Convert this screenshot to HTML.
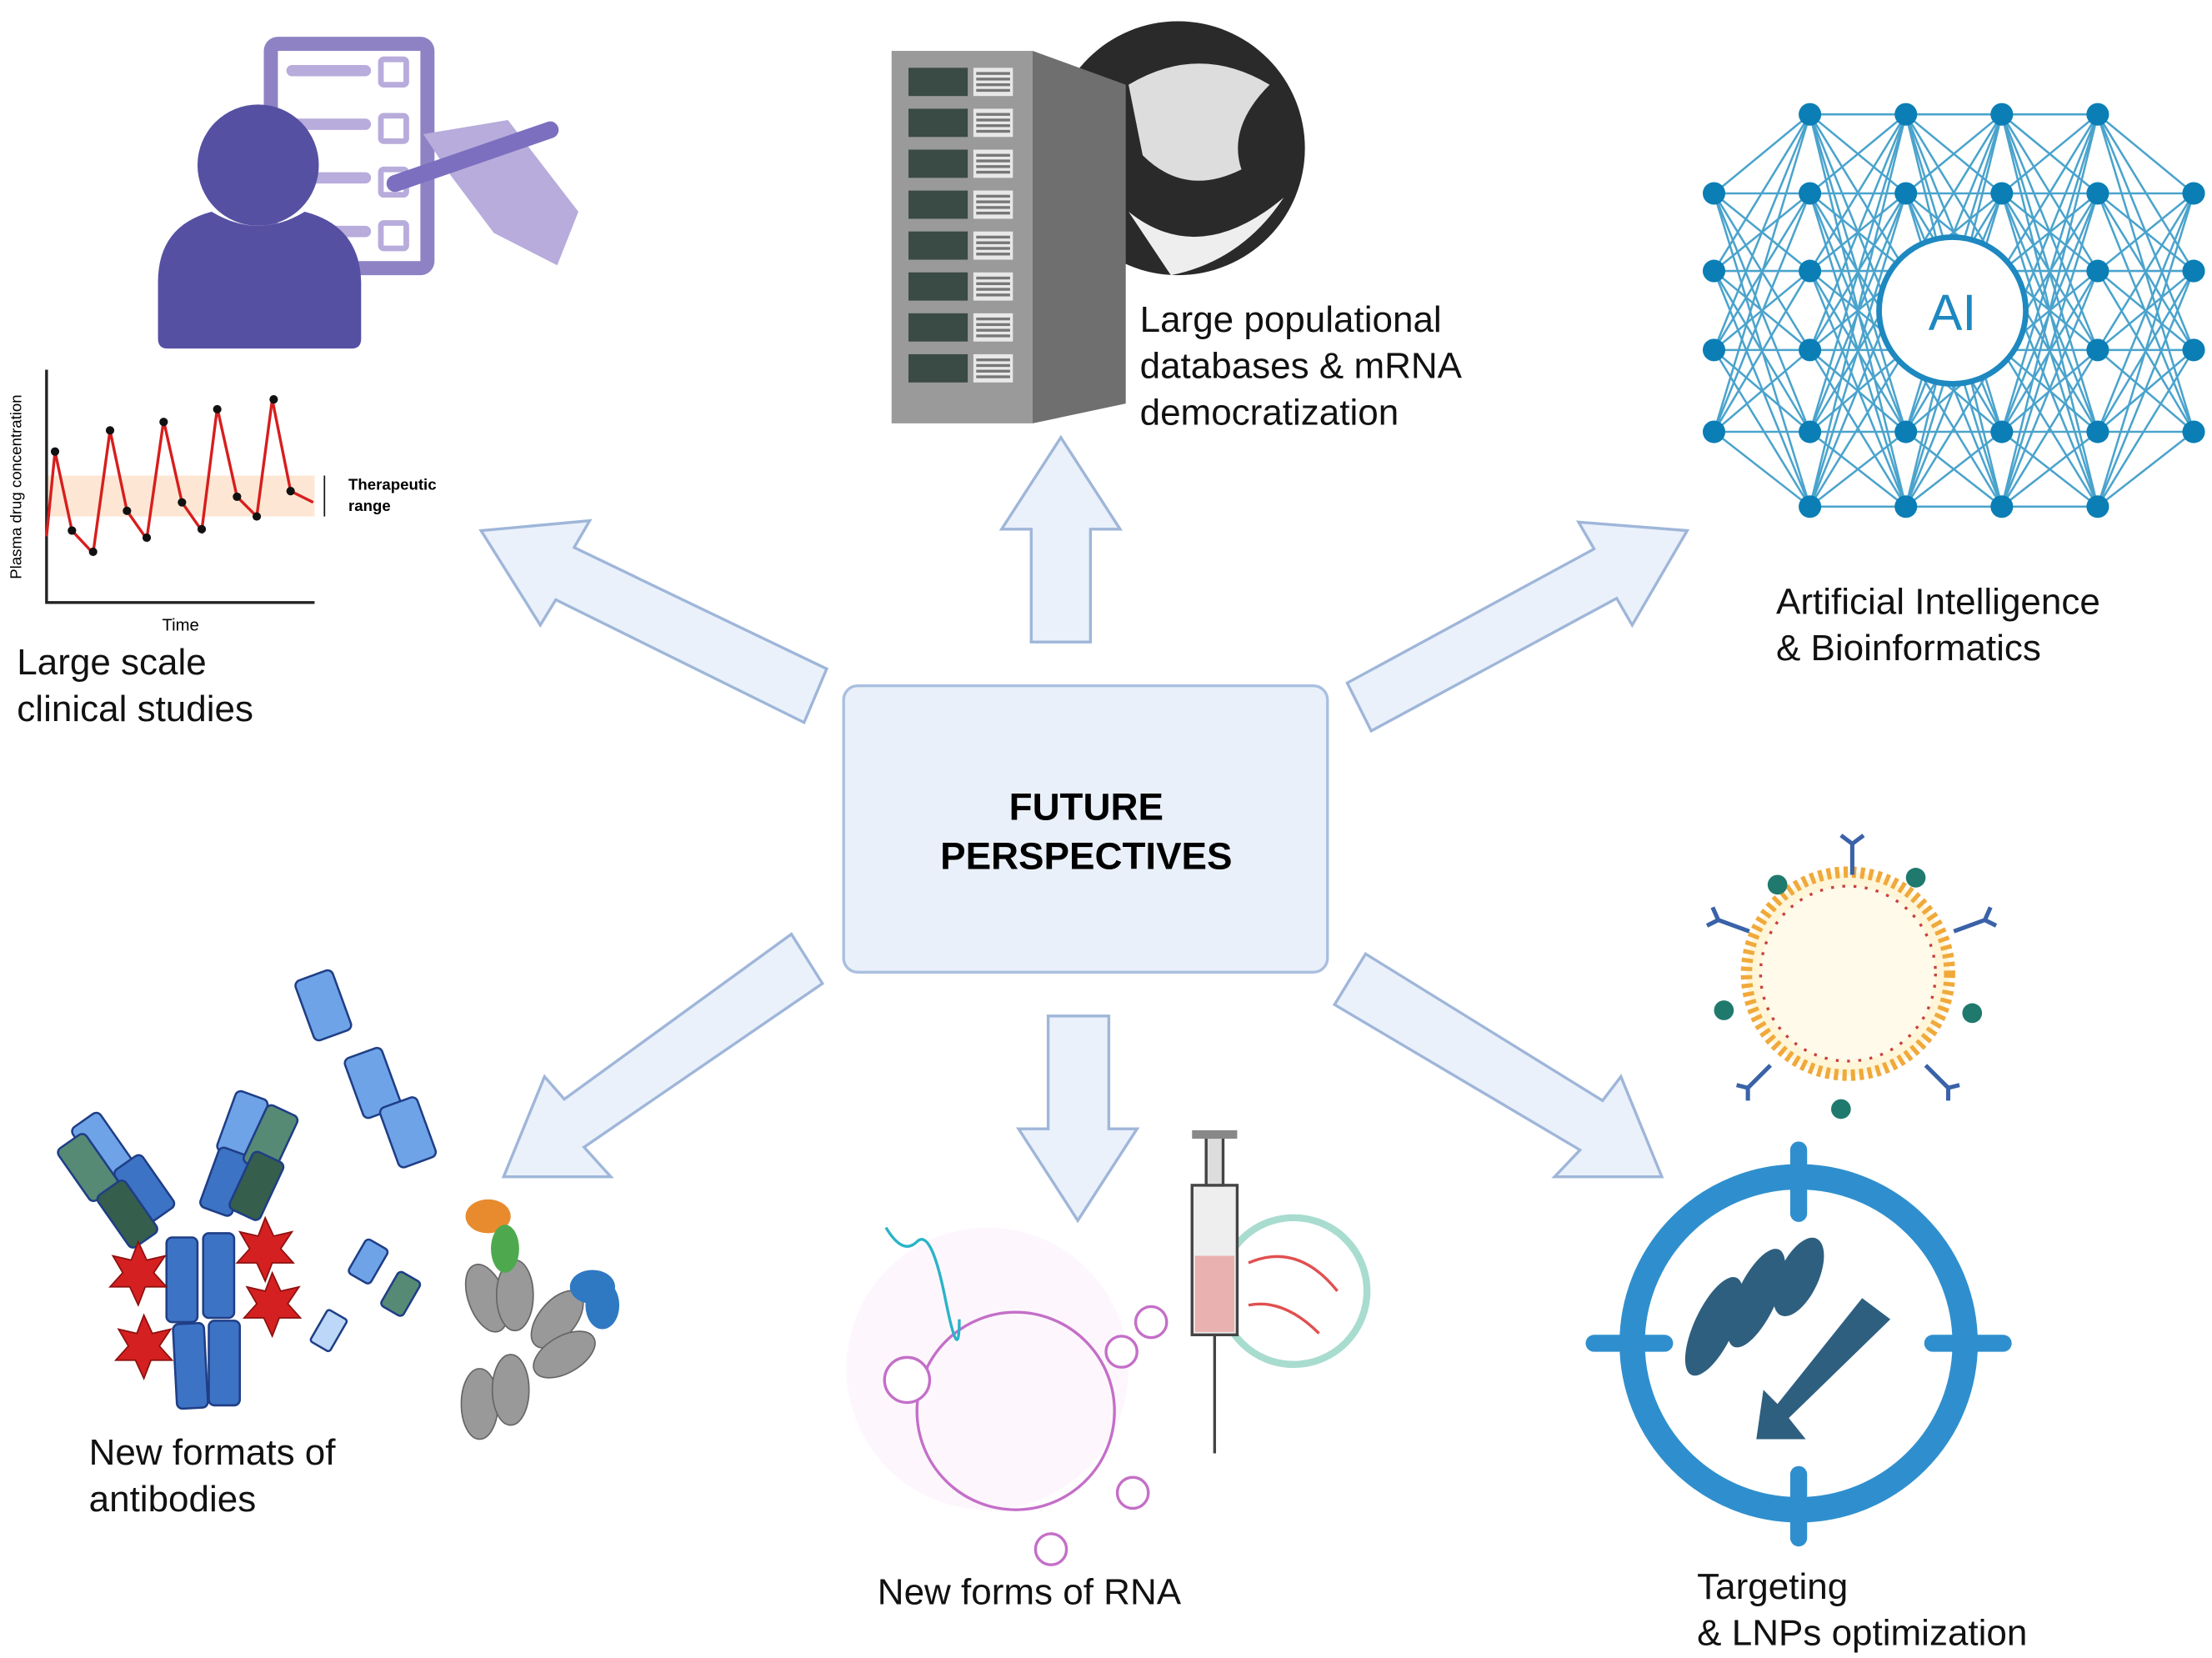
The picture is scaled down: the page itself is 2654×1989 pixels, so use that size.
<!DOCTYPE html>
<html><head><meta charset="utf-8"><style>
html,body{margin:0;padding:0;background:#fff}
svg{display:block}
text{font-family:"Liberation Sans",sans-serif}
</style></head><body>
<svg id="s" width="2654" height="1989" viewBox="0 0 1568 1175" xmlns="http://www.w3.org/2000/svg">
<rect width="1568" height="1175" fill="#fff"/>
<rect x="187" y="26" width="121" height="169" rx="10" fill="#8e82c4"/>
<rect x="197" y="36" width="101" height="149" fill="#fff"/>
<g fill="#b7acdb">
<rect x="203" y="46" width="60" height="8" rx="4"/><rect x="270" y="42" width="18" height="18" rx="2" fill="none" stroke="#b7acdb" stroke-width="4"/>
<rect x="203" y="84" width="60" height="8" rx="4"/><rect x="270" y="82" width="18" height="18" rx="2" fill="none" stroke="#b7acdb" stroke-width="4"/>
<rect x="203" y="122" width="60" height="8" rx="4"/><rect x="270" y="120" width="18" height="18" rx="2" fill="none" stroke="#b7acdb" stroke-width="4"/>
<rect x="203" y="160" width="60" height="8" rx="4"/><rect x="270" y="158" width="18" height="18" rx="2" fill="none" stroke="#b7acdb" stroke-width="4"/>
<path d="M300 95 L360 85 L410 150 L395 188 L350 165 L320 125 Z"/>
</g>
<path d="M280 130 L390 92" stroke="#7c6fbf" stroke-width="12" stroke-linecap="round"/>
<circle cx="183" cy="117" r="43" fill="#5650a3"/>
<path d="M112 200 Q112 160 150 150 Q183 170 216 150 Q255 160 256 200 L256 240 Q256 247 249 247 L119 247 Q112 247 112 240 Z" fill="#5650a3"/>
<rect x="33" y="337" width="190" height="29" fill="#fde7d4"/>
<path d="M33 262 V427 H223" stroke="#222" stroke-width="2" fill="none"/>
<path d="M33 380 L39 320 L51 376 L66 392 L78 305 L90 362 L104 382 L116 298 L129 356 L143 376 L154 289 L168 352 L182 366 L193 283 L206 348 L222 356" stroke="#d71e1e" stroke-width="2" fill="none"/>
<g fill="#111"><circle cx="39" cy="320" r="3"/><circle cx="51" cy="376" r="3"/><circle cx="66" cy="391" r="3"/><circle cx="78" cy="305" r="3"/><circle cx="90" cy="362" r="3"/><circle cx="104" cy="381" r="3"/><circle cx="116" cy="299" r="3"/><circle cx="129" cy="356" r="3"/><circle cx="143" cy="375" r="3"/><circle cx="154" cy="290" r="3"/><circle cx="168" cy="352" r="3"/><circle cx="182" cy="366" r="3"/><circle cx="194" cy="283" r="3"/><circle cx="206" cy="348" r="3"/></g>
<path d="M230 337 V366" stroke="#111" stroke-width="1"/>
<text x="247" y="347" font-size="11" font-weight="bold">Therapeutic</text>
<text x="247" y="362" font-size="11" font-weight="bold">range</text>
<text x="128" y="447" font-size="12" text-anchor="middle">Time</text>
<text transform="translate(15,345) rotate(-90)" font-size="11" text-anchor="middle">Plasma drug concentration</text>
<circle cx="835" cy="105" r="90" fill="#2a2a2a"/>
<path d="M800 60 Q850 30 900 60 Q870 90 880 120 Q840 140 810 110 Z" fill="#ddd"/>
<path d="M800 150 Q850 190 910 140 Q880 185 830 195 Z" fill="#eee"/>
<rect x="632" y="36" width="100" height="264" fill="#9a9a9a"/>
<polygon points="732,36 798,60 798,286 732,300" fill="#6f6f6f"/>
<g id="srv"></g>
<g id="net"></g>
<circle cx="1384" cy="220" r="52" fill="#fff" stroke="#1e88c0" stroke-width="4"/>
<text x="1384" y="234" font-size="36" fill="#1e88c0" text-anchor="middle">AI</text>
<rect x="598" y="486" width="343" height="203" rx="10" fill="#e9f0f9" stroke="#a9bfe0" stroke-width="2"/>
<text x="770" y="581" font-size="27" font-weight="bold" text-anchor="middle">FUTURE</text>
<text x="770" y="616" font-size="27" font-weight="bold" text-anchor="middle">PERSPECTIVES</text>
<g fill="#eaf1fb" stroke="#9fb6d9" stroke-width="2">
<polygon points="731,455 731,375 710,375 752,310 794,375 773,375 773,455"/>
<polygon points="743,720 786,720 786,800 806,800 764,865 722,800 743,800"/>
<polygon points="341,376 418,369 407,388 586,474 570,512 394,425 383,443"/>
<polygon points="1196,376 1157,443 1146,424 972,518 955,484 1130,389 1119,370"/>
<polygon points="357,834 386,763 400,779 561,662 583,697 414,813 433,834"/>
<polygon points="1178,834 1102,834 1120,815 946,712 968,676 1136,780 1149,763"/>
</g>
<g stroke="#1f3e86" stroke-width="1.5">
<g fill="#3d73c4"><rect x="118" y="877" width="22" height="60" rx="4"/><rect x="124" y="938" width="22" height="60" rx="4" transform="rotate(-3 135 968)"/><rect x="144" y="874" width="22" height="60" rx="4"/><rect x="148" y="936" width="22" height="60" rx="4"/></g>
<g fill="#6ea3e8"><rect x="60" y="790" width="24" height="45" rx="4" transform="rotate(-35 72 812)"/><rect x="160" y="775" width="24" height="45" rx="4" transform="rotate(20 172 797)"/><rect x="215" y="690" width="28" height="45" rx="4" transform="rotate(-20 229 712)"/><rect x="250" y="745" width="28" height="45" rx="4" transform="rotate(-20 264 767)"/><rect x="275" y="780" width="28" height="45" rx="4" transform="rotate(-20 289 802)"/><rect x="252" y="880" width="18" height="28" rx="3" transform="rotate(30 261 894)"/></g>
<g fill="#3d73c4"><rect x="90" y="820" width="24" height="45" rx="4" transform="rotate(-35 102 842)"/><rect x="148" y="815" width="24" height="45" rx="4" transform="rotate(20 160 837)"/></g>
<g fill="#568a74"><rect x="50" y="805" width="24" height="45" rx="4" transform="rotate(-35 62 827)"/><rect x="180" y="785" width="24" height="45" rx="4" transform="rotate(25 192 807)"/><rect x="275" y="903" width="18" height="28" rx="3" transform="rotate(30 284 917)"/></g>
<g fill="#355e4c"><rect x="78" y="838" width="24" height="45" rx="4" transform="rotate(-35 90 860)"/><rect x="170" y="818" width="24" height="45" rx="4" transform="rotate(25 182 840)"/></g>
<rect x="225" y="930" width="16" height="26" rx="2" fill="#bcd7f7" transform="rotate(30 233 943)"/>
</g>
<g fill="#d42020" stroke="#8c0f0f"><polygon points="98,880 104,893 117,890 109,902 118,912 103,912 98,925 92,912 78,912 87,902 80,890 93,893"/><polygon points="102,932 108,945 121,942 113,954 122,964 107,964 102,977 96,964 82,964 91,954 84,942 97,945"/><polygon points="188,863 194,876 207,873 199,885 208,895 193,895 188,908 182,895 168,895 177,885 170,873 183,876"/><polygon points="193,902 199,915 212,912 204,924 213,934 198,934 193,947 187,934 173,934 182,924 175,912 188,915"/></g>
<g fill="#999" stroke="#666"><ellipse cx="345" cy="920" rx="13" ry="25" transform="rotate(-20 345 920)"/><ellipse cx="365" cy="918" rx="13" ry="25"/><ellipse cx="340" cy="995" rx="13" ry="25"/><ellipse cx="362" cy="985" rx="13" ry="25"/><ellipse cx="395" cy="935" rx="13" ry="24" transform="rotate(40 395 935)"/><ellipse cx="400" cy="960" rx="13" ry="24" transform="rotate(60 400 960)"/></g>
<ellipse cx="346" cy="862" rx="16" ry="12" fill="#e88a2e"/><ellipse cx="358" cy="885" rx="10" ry="17" fill="#4ea94e"/>
<ellipse cx="420" cy="912" rx="16" ry="12" fill="#2f78c2"/><ellipse cx="427" cy="925" rx="12" ry="17" fill="#2f78c2"/>
<circle cx="700" cy="970" r="100" fill="#f7e6f7" opacity="0.3"/>
<circle cx="720" cy="1000" r="70" fill="none" stroke="#c46fc8" stroke-width="2"/>
<circle cx="643" cy="978" r="16" fill="#fff" stroke="#c46fc8" stroke-width="2"/>
<circle cx="816" cy="937" r="11" fill="#fff" stroke="#c46fc8" stroke-width="2"/><circle cx="795" cy="958" r="11" fill="#fff" stroke="#c46fc8" stroke-width="2"/>
<circle cx="803" cy="1058" r="11" fill="#fff" stroke="#c46fc8" stroke-width="2"/>
<circle cx="745" cy="1098" r="11" fill="#fff" stroke="#c46fc8" stroke-width="2"/>
<path d="M628 870 Q640 890 650 880 T670 920 T680 935" stroke="#2ab3c8" stroke-width="2" fill="none"/>
<circle cx="917" cy="915" r="52" fill="#fff" stroke="#a8dccf" stroke-width="5"/>
<path d="M885 895 Q920 880 948 915" stroke="#e05050" stroke-width="2" fill="none"/><path d="M885 925 Q910 920 935 945" stroke="#e05050" stroke-width="2" fill="none"/>
<rect x="845" y="840" width="32" height="106" fill="#eee" stroke="#444" stroke-width="2"/>
<rect x="847" y="890" width="28" height="54" fill="#eab1b1"/>
<rect x="855" y="806" width="12" height="34" fill="#ddd" stroke="#444" stroke-width="2"/>
<rect x="845" y="801" width="32" height="6" fill="#888"/>
<path d="M861 946 V1030" stroke="#444" stroke-width="2"/>
<circle cx="1310" cy="690" r="72" fill="#fff5d8" stroke="#f0a93a" stroke-width="8" stroke-dasharray="3 3"/>
<circle cx="1310" cy="690" r="62" fill="#fffaea" stroke="#c84040" stroke-width="2" stroke-dasharray="2 6"/>
<g fill="#1f7a6d"><circle cx="1260" cy="627" r="7"/><circle cx="1358" cy="622" r="7"/><circle cx="1222" cy="716" r="7"/><circle cx="1398" cy="718" r="7"/><circle cx="1305" cy="786" r="7"/></g>
<g stroke="#3a62a8" stroke-width="3" fill="none"><path d="M1313 620 V598 M1313 598 l-8 -6 M1313 598 l8 -6"/><path d="M1240 660 l-22 -8 m0 0 l-4 -9 m4 9 l-8 4"/><path d="M1385 660 l22 -8 m0 0 l4 -9 m-4 9 l8 4"/><path d="M1255 755 l-16 16 m0 0 l-8 -2 m8 2 l0 9"/><path d="M1365 755 l16 16 m0 0 l8 -2 m-8 2 l0 9"/></g>
<circle cx="1275" cy="952" r="118" fill="none" stroke="#2f8fce" stroke-width="18"/>
<g stroke="#2f8fce" stroke-width="12" stroke-linecap="round"><path d="M1275 815 V860 M1275 1045 V1090 M1130 952 H1180 M1370 952 H1420"/></g>
<g fill="#2e5f7f"><ellipse cx="1215" cy="940" rx="14" ry="38" transform="rotate(25 1215 940)"/><ellipse cx="1245" cy="920" rx="14" ry="38" transform="rotate(25 1245 920)"/><ellipse cx="1275" cy="905" rx="14" ry="30" transform="rotate(25 1275 905)"/><polygon points="1320,920 1340,935 1268,1005 1280,1020 1245,1020 1250,985 1260,995"/></g>
<g font-size="26" fill="#111">
<text x="12" y="478">Large scale</text><text x="12" y="511">clinical studies</text>
<text x="808" y="235">Large populational</text><text x="808" y="268">databases &amp; mRNA</text><text x="808" y="301">democratization</text>
<text x="1259" y="435">Artificial Intelligence</text><text x="1259" y="468">&amp; Bioinformatics</text>
<text x="63" y="1038">New formats of</text><text x="63" y="1071">antibodies</text>
<text x="622" y="1137">New forms of RNA</text>
<text x="1203" y="1133">Targeting</text><text x="1203" y="1166">&amp; LNPs optimization</text>
</g>
</svg>
<script>
var NS="http://www.w3.org/2000/svg";
function el(p,t,a){var e=document.createElementNS(NS,t);for(var k in a)e.setAttribute(k,a[k]);p.appendChild(e);return e;}
var srv=document.getElementById("srv");
for(var i=0;i<8;i++){var y=48+i*29;el(srv,"rect",{x:644,y:y,width:42,height:20,fill:"#3a4a45"});el(srv,"rect",{x:690,y:y,width:28,height:20,fill:"#e8e8e8"});
for(var j=0;j<4;j++)el(srv,"rect",{x:692,y:y+3+j*4,width:24,height:2,fill:"#777"});}
var net=document.getElementById("net");
var cols=[[1215,[137,192,248,306]],[1283,[81,137,192,248,306,359]],[1351,[81,137,192,248,306,359]],[1419,[81,137,192,248,306,359]],[1487,[81,137,192,248,306,359]],[1555,[137,192,248,306]]];
for(var c=0;c<cols.length-1;c++){var a=cols[c],b=cols[c+1];a[1].forEach(function(y1){b[1].forEach(function(y2){el(net,"line",{x1:a[0],y1:y1,x2:b[0],y2:y2,stroke:"#4aa3cc","stroke-width":1.5});});});}
cols.forEach(function(c){c[1].forEach(function(y){el(net,"circle",{cx:c[0],cy:y,r:8,fill:"#0b7eb5"});});});
</script>
</body></html>
